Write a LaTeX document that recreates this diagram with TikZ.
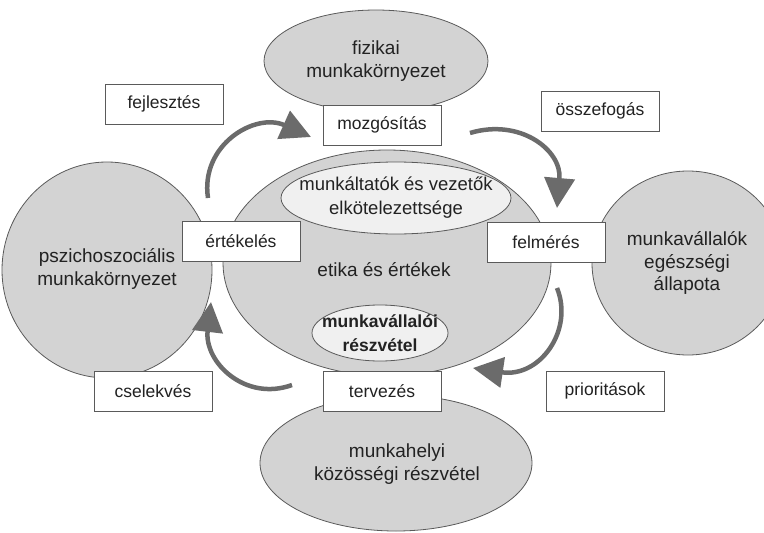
\documentclass[tikz,border=0pt]{standalone}
\usepackage{fontspec}
\setmainfont{Liberation Sans}
\usetikzlibrary{shapes.geometric,arrows.meta}
\definecolor{regfill}{HTML}{D3D3D3}
\definecolor{innerfill}{HTML}{F0F0F0}
\definecolor{edgec}{HTML}{5A5A5A}
\definecolor{arrowc}{HTML}{6B6B6B}
\definecolor{txtc}{HTML}{222222}
\begin{document}
\begin{tikzpicture}[x=1pt,y=-1pt,
  region/.style={ellipse, draw=edgec, line width=0.8pt, fill=regfill, inner sep=0pt},
  innerreg/.style={ellipse, draw=edgec, line width=0.8pt, fill=innerfill, inner sep=0pt},
  bigtext/.style={align=center, text=txtc, font=\fontsize{19}{22.5}\selectfont, inner sep=0pt},
  midtext/.style={align=center, text=txtc, font=\fontsize{18.5}{24}\selectfont, inner sep=0pt},
  stepbox/.style={draw=edgec, line width=0.8pt, fill=white, minimum width=118pt, minimum height=40pt, inner sep=0pt, text=txtc, font=\fontsize{17.5}{20}\selectfont},
  cyclearrow/.style={draw=arrowc, line width=4.5pt, -{Triangle[length=30pt,width=30pt]}}
]
\useasboundingbox (0,0) rectangle (764,533);
% regions
\node[region, minimum width=328pt, minimum height=226pt] (core) at (387,263) {};
\node[region, minimum width=224pt, minimum height=102pt] (phys) at (376,61) {};
\node[region, minimum width=210pt, minimum height=216pt] (psy) at (107,270) {};
\node[region, minimum width=192pt, minimum height=184pt] (health) at (688,263) {};
\node[region, minimum width=272pt, minimum height=136pt] (comm) at (396,463) {};
\node[innerreg, minimum width=230pt, minimum height=72pt] (lead) at (396,198) {};
\node[innerreg, minimum width=136pt, minimum height=56pt] (part) at (380,333) {};
% texts
\node[bigtext] (physT) at (phys.center) {fizikai\\munkakörnyezet};
\node[bigtext] (psyT) at (107,269) {pszichoszociális\\munkakörnyezet};
\node[bigtext] (healthT) at (687,263) {munkavállalók\\egészségi\\állapota};
\node[bigtext] (commT) at (397,464) {munkahelyi\\közösségi részvétel};
\node[bigtext] (coreT) at (384,270) {etika és értékek};
\node[midtext] (leadT) at (lead.center) {munkáltatók és vezetők\\elkötelezettsége};
\node[midtext, font=\bfseries\fontsize{17.5}{24}\selectfont] (partT) at (part.center) {munkavállalói\\részvétel};
% arrows
\coordinate (a1s) at (208,198); \coordinate (a1e) at (311,137);
\coordinate (a2s) at (470,133); \coordinate (a2e) at (557,208);
\coordinate (a3s) at (557,288); \coordinate (a3e) at (473,368);
\coordinate (a4s) at (292,385); \coordinate (a4e) at (211,302);
\draw[cyclearrow] (a1s) .. controls (200,145) and (255,112) .. (a1e);
\draw[cyclearrow] (a2s) .. controls (520,118) and (562,150) .. (a2e);
\draw[cyclearrow] (a3s) .. controls (574,330) and (540,378) .. (a3e);
\draw[cyclearrow] (a4s) .. controls (245,402) and (204,362) .. (a4e);
% step boxes
\node[stepbox] (fej) at (164,104) {fejlesztés};
\node[stepbox] (moz) at (382,125) {mozgósítás};
\node[stepbox] (oss) at (600,111) {összefogás};
\node[stepbox] (ert) at (241,241) {értékelés};
\node[stepbox] (fel) at (546,242) {felmérés};
\node[stepbox] (cse) at (153,391) {cselekvés};
\node[stepbox] (ter) at (382,391) {tervezés};
\node[stepbox] (pri) at (605,391) {prioritások};
\end{tikzpicture}
\end{document}
